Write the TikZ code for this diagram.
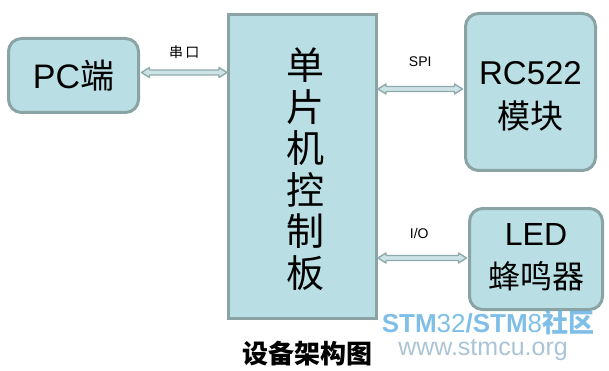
\documentclass[tikz,border=0pt]{standalone}
\usepackage{fontspec}
\setmainfont{Liberation Sans}
\newfontfamily\cjk{Noto Sans CJK SC}
\usetikzlibrary{calc}
\definecolor{boxfill}{RGB}{185,223,228}
\definecolor{boxline}{RGB}{138,163,165}
\definecolor{arrline}{RGB}{143,170,173}
\definecolor{arrfill}{RGB}{205,228,231}
\definecolor{wmblue}{RGB}{95,175,225}
\definecolor{wmgray}{RGB}{170,196,214}
\tikzset{
  blk/.style={draw=boxline, fill=boxfill, line width=3pt, inner sep=0pt, align=center},
  rblk/.style={blk, rounded corners=13pt},
  arr/.style={draw=arrline, fill=arrfill, line width=1.4pt, line join=round},
  lbl/.style={font=\fontsize{14}{16}\selectfont, inner sep=0pt}
}
\newcommand\dblarr[2]{%
  \path[arr] let \p1=(#1), \p2=(#2) in
    (\x1,\y1) -- (\x1+8pt,\y1+5pt) -- (\x1+8pt,\y1+2.5pt) -- (\x2-8pt,\y1+2.5pt)
    -- (\x2-8pt,\y1+5pt) -- (\x2,\y1) -- (\x2-8pt,\y1-5pt) -- (\x2-8pt,\y1-2.5pt)
    -- (\x1+8pt,\y1-2.5pt) -- (\x1+8pt,\y1-5pt) -- cycle;}
\begin{document}
\begin{tikzpicture}[x=1pt,y=-1pt]
\useasboundingbox (0,0) rectangle (609,371);
% boxes
\node[rblk, minimum width=130pt, minimum height=74pt,
      font=\fontsize{34}{38}\selectfont] (pc) at (73.5,75.5) {PC{\cjk 端}};
\node[blk, minimum width=148pt, minimum height=304pt] (mcu) at (302.5,166.5) {};
\node[font=\fontsize{38}{41.5}\selectfont\cjk, align=center, inner sep=0pt] (mcut) at (305,169)
  {单\\片\\机\\控\\制\\板};
\node[rblk, minimum width=130pt, minimum height=157pt] (rc) at (530.5,92) {};
\node[font=\fontsize{33}{44}\selectfont, align=center, inner sep=0pt] (rct) at (530.5,96)
  {RC522\\{\cjk 模块}};
\node[rblk, minimum width=133pt, minimum height=101pt] (led) at (536,259) {};
\node[font=\fontsize{32}{43}\selectfont, align=center, inner sep=0pt] (ledt) at (536,257)
  {LED\\{\cjk 蜂鸣器}};
% connectors
\coordinate (a1) at ($(pc.east)+(1.5,-3)$);
\coordinate (a2) at (a1 -| mcu.west);
\coordinate (b2) at ($(rc.west)+(-1.5,-3)$);
\coordinate (b1) at (b2 -| mcu.east);
\coordinate (c2) at ($(led.west)+(-1.5,-1)$);
\coordinate (c1) at (c2 -| mcu.east);
\dblarr{a1}{a2}
\dblarr{b1}{b2}
\dblarr{c1}{c2}
\node[lbl] (la) at ($(a1)!0.5!(a2)+(0,-20)$) {\cjk 串\,口};
\node[lbl] (lb) at ($(b1)!0.5!(b2)+(0,-27)$) {SPI};
\node[lbl] (lc) at ($(c1)!0.5!(c2)+(-3,-25)$) {I/O};
% caption
\node[font=\fontsize{26}{30}\selectfont\cjk\bfseries, inner sep=0pt] (cap) at (307,354) {设备架构图};
% watermark
\node[font=\fontsize{26}{30}\selectfont, text=wmblue, inner sep=0pt, opacity=0.8,
      anchor=base, text depth=0pt] (wm1) at (488,332)
  {\textbf{STM}32\textbf{/STM}8\textbf{\cjk 社区}};
\node[font=\fontsize{25}{30}\selectfont, text=wmgray, inner sep=0pt, anchor=base,
      text height=0.6em] (wm2) at (483,355) {www.stmcu.org};
\end{tikzpicture}
\end{document}
